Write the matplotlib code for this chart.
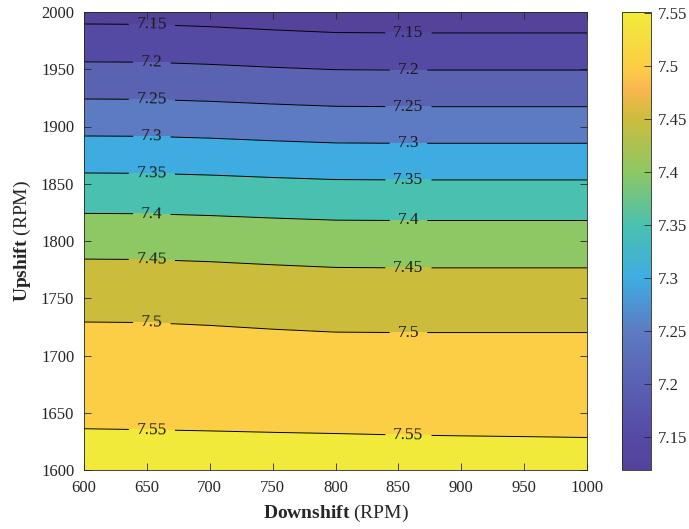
import numpy as np
import matplotlib
matplotlib.use('Agg')
import matplotlib.pyplot as plt
from matplotlib.colors import LinearSegmentedColormap, Normalize
from matplotlib.cm import ScalarMappable

plt.rcParams['font.family'] = 'Liberation Serif'
plt.rcParams['mathtext.fontset'] = 'custom'
plt.rcParams['mathtext.rm'] = 'Liberation Serif'
plt.rcParams['mathtext.bf'] = 'Liberation Serif:bold'

# Data
downshift = np.array([600, 650, 700, 750, 800, 850, 900, 950, 1000])
upshift = np.array([1600, 1650, 1700, 1750, 1800, 1850, 1900, 1950, 2000])
Z = np.array([
    [7.5660, 7.5657, 7.5653, 7.5648, 7.5644, 7.5639, 7.5636, 7.5633, 7.5630],
    [7.5438, 7.5434, 7.5429, 7.5423, 7.5418, 7.5412, 7.5408, 7.5405, 7.5401],
    [7.5186, 7.5184, 7.5174, 7.5159, 7.5147, 7.5145, 7.5145, 7.5145, 7.5145],
    [7.4868, 7.4864, 7.4843, 7.4813, 7.4787, 7.4783, 7.4783, 7.4783, 7.4783],
    [7.4330, 7.4326, 7.4306, 7.4278, 7.4254, 7.4250, 7.4250, 7.4250, 7.4250],
    [7.3646, 7.3641, 7.3618, 7.3585, 7.3557, 7.3552, 7.3552, 7.3552, 7.3552],
    [7.2872, 7.2867, 7.2842, 7.2806, 7.2776, 7.2771, 7.2771, 7.2771, 7.2771],
    [7.2098, 7.2093, 7.2065, 7.2027, 7.1994, 7.1989, 7.1989, 7.1989, 7.1989],
    [7.1342, 7.1336, 7.1305, 7.1261, 7.1224, 7.1218, 7.1218, 7.1218, 7.1218],
])
levels = [7.15, 7.2, 7.25, 7.3, 7.35, 7.4, 7.45, 7.5, 7.55]
clim = [7.119, 7.551]
label_x = [654, 858]

# parula-like colormap as it appears in the picture
anchors = [
    (0.00, (84, 66, 155)),
    (0.07, (85, 74, 163)),
    (0.19, (90, 98, 178)),
    (0.30, (92, 122, 194)),
    (0.42, (62, 172, 224)),
    (0.53, (72, 192, 178)),
    (0.65, (140, 200, 100)),
    (0.77, (205, 188, 60)),
    (0.83, (248, 182, 78)),
    (0.88, (252, 205, 70)),
    (1.00, (242, 234, 58)),
]
cmap = LinearSegmentedColormap.from_list(
    'parula_like', [(p, tuple(c / 255 for c in rgb)) for p, rgb in anchors])

zmin, zmax = Z.min(), Z.max()
norm = Normalize(vmin=clim[0], vmax=clim[1], clip=True)
bounds = [zmin - 1e-6] + levels + [zmax + 1e-6]
band_colors = [cmap(norm(max(b, zmin))) for b in bounds[:-1]]

fig = plt.figure(figsize=(6.89, 5.29), dpi=100)
ax = fig.add_axes([84 / 689, 1 - 470 / 529, 503 / 689, 458 / 529])
cax = fig.add_axes([622 / 689, 1 - 470 / 529, 29 / 689, 458 / 529])

X, Y = np.meshgrid(downshift, upshift)
ax.contourf(X, Y, Z, levels=bounds, colors=band_colors)
cs = ax.contour(X, Y, Z, levels=levels, colors='k', linewidths=0.7)

# label positions: find where each level crosses the column at label_x
manual = []
for lv in levels:
    for lx in label_x:
        col = np.array([np.interp(lx, downshift, row) for row in Z])
        uy = np.interp(lv, col[::-1], upshift[::-1])
        manual.append((lx, uy))
ax.clabel(cs, levels, manual=manual, inline=True, inline_spacing=8,
          fontsize=12.5, fmt='%g', colors='#1a1a1a')

ax.set_xlim(600, 1000)
ax.set_ylim(1600, 2000)
ax.set_xticks(np.arange(600, 1001, 50))
ax.set_yticks(np.arange(1600, 2001, 50))
ax.tick_params(direction='in', length=5, width=0.6, top=True, right=True,
               labelsize=12, colors='#262626', pad=7)
for s in ax.spines.values():
    s.set_color('#262626')
    s.set_linewidth(0.6)
ax.set_xlabel(r'$\bf{Downshift}$ (RPM)', fontsize=14, color='#262626', labelpad=5)
ax.set_ylabel(r'$\bf{Upshift}$ (RPM)', fontsize=14, color='#262626', labelpad=6)

sm = ScalarMappable(norm=norm, cmap=cmap)
cb = fig.colorbar(sm, cax=cax, ticks=levels)
cb.ax.set_yticklabels([f'{v:g}' for v in levels])
cb.ax.tick_params(direction='in', length=5, width=0.6, labelsize=12,
                  colors='#262626', pad=5)
cb.outline.set_edgecolor('#262626')
cb.outline.set_linewidth(0.6)

fig.savefig('out.png', dpi=100)
